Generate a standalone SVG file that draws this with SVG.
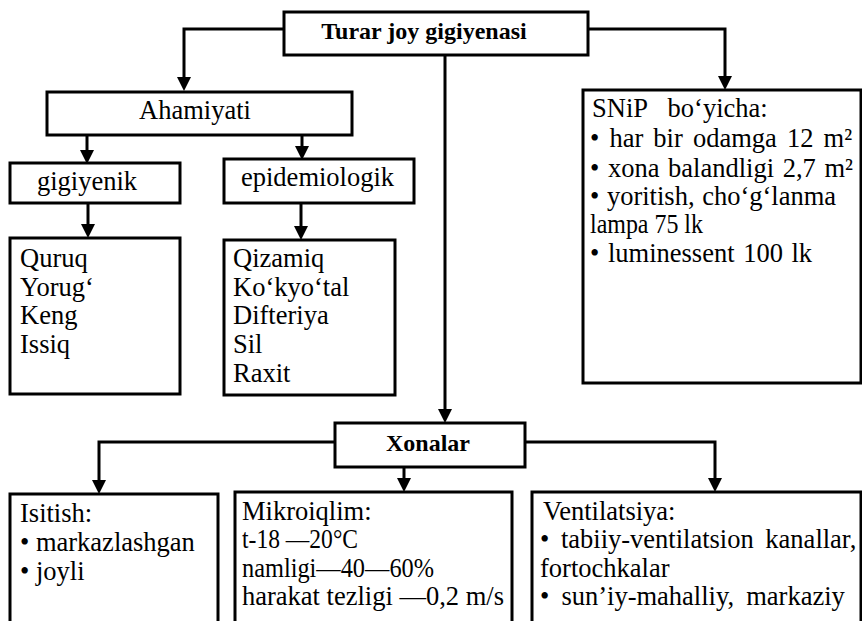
<svg xmlns="http://www.w3.org/2000/svg" width="862" height="621" viewBox="0 0 862 621">
<style>
  .box { fill: #fff; stroke: #000; stroke-width: 3; }
  .con { fill: none; stroke: #000; stroke-width: 3; }
  text { fill: #000; }
  .t { font-family: "Liberation Serif", "Tinos", "DejaVu Serif", serif; font-size: 26.5px; font-weight: normal; }
  .b { font-family: "Liberation Serif", "Tinos", "DejaVu Serif", serif; font-size: 24px; font-weight: bold; }
</style>
<defs>
  <marker id="ah" viewBox="0 0 14 14" refX="0" refY="7" markerWidth="14" markerHeight="14" markerUnits="userSpaceOnUse" orient="auto">
    <path d="M0,0 L14,7 L0,14 z" fill="#000"/>
  </marker>
</defs>
<rect width="862" height="621" fill="#fff"/>
<g id="connectors">
  <path class="con" d="M284,29 H184 V77" marker-end="url(#ah)"/>
  <path class="con" d="M588,29 H725 V76" marker-end="url(#ah)"/>
  <path class="con" d="M445,55 V409" marker-end="url(#ah)"/>
  <path class="con" d="M87,135 V150" marker-end="url(#ah)"/>
  <path class="con" d="M302,135 V146" marker-end="url(#ah)"/>
  <path class="con" d="M88,203 V224" marker-end="url(#ah)"/>
  <path class="con" d="M301,203 V226" marker-end="url(#ah)"/>
  <path class="con" d="M335,442 H99 V480" marker-end="url(#ah)"/>
  <path class="con" d="M404,467 V478" marker-end="url(#ah)"/>
  <path class="con" d="M525,442 H715 V478" marker-end="url(#ah)"/>
</g>
<g id="turar">
  <rect class="box" x="284" y="12" width="304" height="43"/>
  <text class="b" x="424" y="39" text-anchor="middle">Turar joy gigiyenasi</text>
</g>
<g id="ahamiyati">
  <rect class="box" x="47" y="92" width="305" height="43"/>
  <text class="t" x="195" y="119" text-anchor="middle">Ahamiyati</text>
</g>
<g id="gigiyenik">
  <rect class="box" x="10" y="163" width="170" height="40"/>
  <text class="t" x="37" y="190">gigiyenik</text>
</g>
<g id="epidemiologik">
  <rect class="box" x="224" y="159" width="190" height="44"/>
  <text class="t" x="241" y="186">epidemiologik</text>
</g>
<g id="gig-list">
  <rect class="box" x="10" y="238" width="170" height="156"/>
  <text class="t" x="20" y="267">Quruq</text>
  <text class="t" x="20" y="296">Yorug‘</text>
  <text class="t" x="20" y="324">Keng</text>
  <text class="t" x="20" y="353">Issiq</text>
</g>
<g id="epi-list">
  <rect class="box" x="224" y="240" width="171" height="155"/>
  <text class="t" x="233" y="267">Qizamiq</text>
  <text class="t" x="233" y="296">Ko‘kyo‘tal</text>
  <text class="t" x="233" y="324">Difteriya</text>
  <text class="t" x="233" y="353">Sil</text>
  <text class="t" x="233" y="382">Raxit</text>
</g>
<g id="snip">
  <rect class="box" x="583" y="90" width="278" height="293"/>
  <text class="t" x="592" y="117" word-spacing="14">SNiP bo‘yicha:</text>
  <text class="t" x="590" y="147" word-spacing="3.5">• har bir odamga 12 m²</text>
  <text class="t" x="590" y="177" word-spacing="2">• xona balandligi 2,7 m²</text>
  <text class="t" x="590" y="205" word-spacing="1">• yoritish, cho‘g‘lanma</text>
  <text class="t" x="590" y="233" textLength="113" lengthAdjust="spacingAndGlyphs">lampa 75 lk</text>
  <text class="t" x="590" y="262" word-spacing="2">• luminessent 100 lk</text>
</g>
<g id="xonalar">
  <rect class="box" x="335" y="423" width="190" height="44"/>
  <text class="b" x="428" y="451" text-anchor="middle">Xonalar</text>
</g>
<g id="isitish">
  <rect class="box" x="10" y="494" width="208" height="140"/>
  <text class="t" x="20" y="522">Isitish:</text>
  <text class="t" x="20" y="551">• markazlashgan</text>
  <text class="t" x="20" y="580">• joyli</text>
</g>
<g id="mikroiqlim">
  <rect class="box" x="235" y="492" width="277" height="140"/>
  <text class="t" x="242" y="520">Mikroiqlim:</text>
  <text class="t" x="242" y="548" textLength="116" lengthAdjust="spacingAndGlyphs">t-18 —20°C</text>
  <text class="t" x="242" y="577" textLength="192" lengthAdjust="spacingAndGlyphs">namligi—40—60%</text>
  <text class="t" x="242" y="605">harakat tezligi —0,2 m/s</text>
</g>
<g id="ventilatsiya">
  <rect class="box" x="532" y="492" width="329" height="140"/>
  <text class="t" x="543" y="520">Ventilatsiya:</text>
  <text class="t" x="540" y="548" word-spacing="5">• tabiiy-ventilatsion kanallar,</text>
  <text class="t" x="540" y="577">fortochkalar</text>
  <text class="t" x="540" y="605" word-spacing="5.5">• sun’iy-mahalliy, markaziy</text>
</g>
</svg>
